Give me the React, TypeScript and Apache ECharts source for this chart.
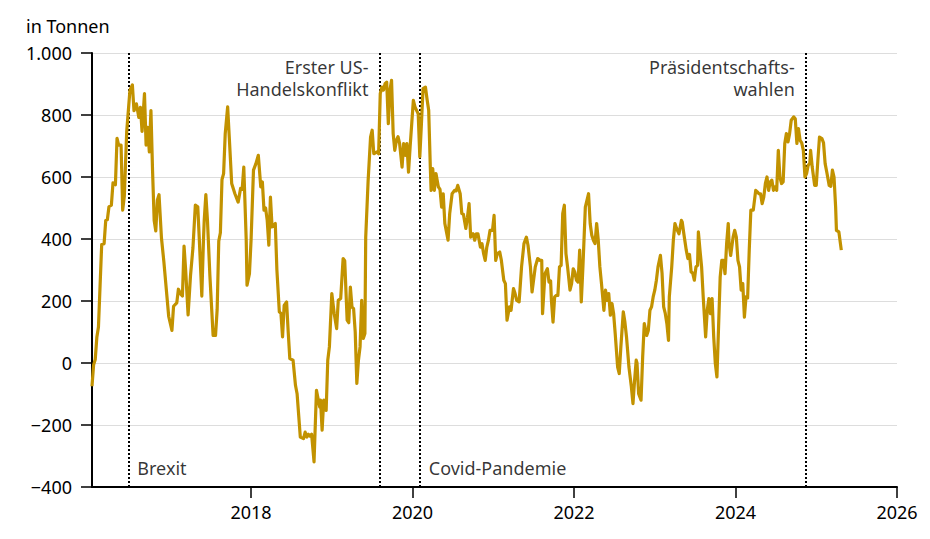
import React, { useEffect, useRef } from "react";
import * as echarts from "echarts";

// Decimal years and net flows in tonnes
const years: number[] = [
  2016.03, 2016.05, 2016.07, 2016.09, 2016.11, 2016.13, 2016.15, 2016.18, 2016.20, 2016.22,
  2016.24, 2016.27, 2016.29, 2016.32, 2016.34, 2016.36, 2016.39, 2016.41, 2016.43, 2016.46,
  2016.50, 2016.53, 2016.55, 2016.58, 2016.61, 2016.63, 2016.65, 2016.68, 2016.70, 2016.72,
  2016.74, 2016.76, 2016.78, 2016.80, 2016.82, 2016.84, 2016.86, 2016.89, 2016.92, 2016.95,
  2016.98, 2017.02, 2017.04, 2017.08, 2017.10, 2017.13, 2017.15, 2017.17, 2017.19, 2017.22,
  2017.25, 2017.28, 2017.31, 2017.34, 2017.36, 2017.39, 2017.41, 2017.42, 2017.44, 2017.46,
  2017.49, 2017.53, 2017.56, 2017.58, 2017.60, 2017.62, 2017.64, 2017.66, 2017.68, 2017.71,
  2017.73, 2017.76, 2017.80, 2017.84, 2017.87, 2017.89, 2017.91, 2017.94, 2017.95, 2017.98,
  2018.00, 2018.03, 2018.06, 2018.09, 2018.12, 2018.14, 2018.16, 2018.18, 2018.20, 2018.22,
  2018.24, 2018.26, 2018.30, 2018.32, 2018.35, 2018.37, 2018.39, 2018.41, 2018.44, 2018.46,
  2018.48, 2018.52, 2018.55, 2018.57, 2018.61, 2018.65, 2018.67, 2018.69, 2018.71, 2018.73,
  2018.75, 2018.78, 2018.81, 2018.85, 2018.86, 2018.88, 2018.90, 2018.93, 2018.95, 2018.97,
  2019.00, 2019.03, 2019.06, 2019.08, 2019.11, 2019.14, 2019.16, 2019.19, 2019.21, 2019.23,
  2019.25, 2019.27, 2019.29, 2019.31, 2019.33, 2019.35, 2019.37, 2019.39, 2019.41, 2019.42,
  2019.45, 2019.48, 2019.50, 2019.52, 2019.56, 2019.58, 2019.60, 2019.62, 2019.64, 2019.66,
  2019.68, 2019.70, 2019.72, 2019.74, 2019.76, 2019.78, 2019.80, 2019.82, 2019.84, 2019.87,
  2019.89, 2019.91, 2019.93, 2019.95, 2019.97, 2019.99, 2020.01, 2020.03, 2020.05, 2020.07,
  2020.09, 2020.11, 2020.13, 2020.16, 2020.18, 2020.20, 2020.22, 2020.23, 2020.25, 2020.27,
  2020.29, 2020.32, 2020.34, 2020.36, 2020.38, 2020.40, 2020.44, 2020.46, 2020.49, 2020.52,
  2020.54, 2020.56, 2020.59, 2020.61, 2020.63, 2020.66, 2020.68, 2020.70, 2020.72, 2020.75,
  2020.77, 2020.79, 2020.81, 2020.84, 2020.86, 2020.88, 2020.90, 2020.92, 2020.94, 2020.96,
  2020.99, 2021.01, 2021.03, 2021.05, 2021.08, 2021.10, 2021.13, 2021.15, 2021.17, 2021.20,
  2021.22, 2021.25, 2021.27, 2021.29, 2021.32, 2021.35, 2021.38, 2021.41, 2021.43, 2021.46,
  2021.48, 2021.52, 2021.55, 2021.58, 2021.60, 2021.61, 2021.64, 2021.67, 2021.69, 2021.71,
  2021.72, 2021.74, 2021.76, 2021.78, 2021.80, 2021.82, 2021.84, 2021.86, 2021.88, 2021.90,
  2021.92, 2021.95, 2021.97, 2021.99, 2022.01, 2022.03, 2022.05, 2022.07, 2022.09, 2022.11,
  2022.14, 2022.16, 2022.18, 2022.20, 2022.22, 2022.24, 2022.26, 2022.28, 2022.30, 2022.32,
  2022.34, 2022.37, 2022.39, 2022.41, 2022.43, 2022.45, 2022.47, 2022.49, 2022.51, 2022.54,
  2022.56, 2022.58, 2022.61, 2022.63, 2022.65, 2022.68, 2022.71, 2022.73, 2022.75, 2022.77,
  2022.78, 2022.80, 2022.83, 2022.85, 2022.87, 2022.90, 2022.92, 2022.94, 2022.96, 2022.98,
  2023.00, 2023.02, 2023.04, 2023.07, 2023.09, 2023.11, 2023.13, 2023.15, 2023.17, 2023.18,
  2023.21, 2023.23, 2023.25, 2023.27, 2023.30, 2023.33, 2023.34, 2023.36, 2023.39, 2023.41,
  2023.43, 2023.45, 2023.47, 2023.49, 2023.51, 2023.53, 2023.54, 2023.56, 2023.58, 2023.60,
  2023.63, 2023.65, 2023.67, 2023.69, 2023.71, 2023.73, 2023.75, 2023.77, 2023.79, 2023.81,
  2023.83, 2023.85, 2023.87, 2023.89, 2023.91, 2023.92, 2023.94, 2023.97, 2023.99, 2024.01,
  2024.03, 2024.05, 2024.07, 2024.09, 2024.11, 2024.13, 2024.15, 2024.17, 2024.19, 2024.22,
  2024.25, 2024.27, 2024.29, 2024.31, 2024.33, 2024.35, 2024.37, 2024.39, 2024.41, 2024.43,
  2024.45, 2024.47, 2024.49, 2024.51, 2024.53, 2024.55, 2024.57, 2024.59, 2024.61, 2024.63,
  2024.65, 2024.67, 2024.69, 2024.72, 2024.74, 2024.76, 2024.78, 2024.80, 2024.82, 2024.84,
  2024.86, 2024.88, 2024.90, 2024.92, 2024.93, 2024.95, 2024.98, 2025.00, 2025.02, 2025.04,
  2025.07, 2025.09, 2025.11, 2025.13, 2025.16, 2025.18, 2025.20, 2025.22, 2025.24, 2025.25,
  2025.28, 2025.31,
];

const tonnes: number[] = [
  -75, -6, 11, 83, 116, 249, 382, 385, 460, 462,
  504, 509, 581, 575, 725, 703, 703, 493, 537, 747,
  880, 897, 814, 836, 792, 825, 747, 869, 703, 760,
  681, 814, 620, 460, 426, 526, 543, 404, 327, 238,
  150, 105, 183, 194, 238, 222, 216, 377, 300, 155,
  282, 371, 509, 504, 393, 216, 393, 460, 543, 460,
  282, 89, 89, 172, 393, 420, 592, 611, 740, 826,
  729, 579, 546, 519, 563, 560, 632, 396, 251, 288,
  396, 622, 643, 670, 568, 584, 493, 500, 460, 380,
  535, 439, 450, 300, 165, 160, 84, 186, 197, 100,
  14, 9, -72, -99, -239, -244, -223, -239, -230, -236,
  -230, -319, -88, -142, -120, -217, -120, -153, 9, 52,
  224, 159, 111, 202, 208, 337, 330, 138, 130, 245,
  180, 175, 100, -66, 9, 52, 202, 79, 95, 406,
  589, 729, 751, 675, 681, 675, 869, 890, 880, 901,
  906, 772, 880, 912, 740, 686, 718, 730, 708, 632,
  708, 670, 708, 616, 697, 772, 847, 826, 815, 804,
  665, 772, 885, 890, 850, 815, 632, 557, 627, 557,
  611, 568, 560, 503, 546, 450, 396, 482, 546, 557,
  555, 573, 546, 482, 480, 434, 470, 514, 406, 417,
  396, 417, 417, 374, 385, 353, 331, 374, 396, 428,
  428, 476, 331, 353, 358, 331, 267, 256, 138, 181,
  170, 240, 224, 202, 197, 310, 385, 406, 380, 310,
  229, 310, 337, 331, 331, 159, 288, 304, 261, 265,
  202, 132, 213, 218, 218, 310, 315, 482, 509, 353,
  310, 235, 256, 304, 293, 267, 261, 364, 197, 310,
  503, 525, 546, 450, 412, 396, 385, 450, 396, 310,
  256, 170, 235, 202, 224, 154, 192, 160, 95, -13,
  -34, 52, 165, 132, 84, -13, -77, -131, -56, 9,
  0, -99, -120, 19, 127, 89, 105, 170, 181, 213,
  235, 267, 310, 347, 290, 181, 160, 127, 73, 213,
  310, 396, 450, 434, 417, 460, 455, 417, 364, 337,
  350, 294, 290, 267, 310, 315, 423, 364, 310, 213,
  84, 170, 208, 159, 208, 84, -2, -45, 116, 277,
  331, 331, 288, 385, 450, 385, 347, 406, 428, 406,
  331, 310, 235, 256, 148, 213, 210, 364, 493, 493,
  557, 552, 546, 546, 514, 535, 579, 600, 557, 584,
  590, 557, 568, 557, 686, 600, 579, 584, 708, 740,
  713, 740, 783, 794, 788, 708, 756, 718, 710, 686,
  600, 611, 638, 643, 686, 632, 573, 573, 654, 729,
  724, 710, 643, 616, 573, 570, 622, 600, 503, 428,
  423, 364,
];

const eventNames: string[] = ["Brexit", "Erster US-\nHandelskonflikt", "Covid-Pandemie", "Präsidentschafts-\nwahlen"];
const eventYears: number[] = [2016.48, 2019.59, 2020.09, 2024.87];
const eventLabelValues: number[] = [-340, 918, -340, 918];
const eventLabelSides: string[] = ["right", "left", "right", "left"];

const xTicks: number[] = [2018, 2020, 2022, 2024, 2026];
const xMin = 2016.03;
const xMax = 2026;
const yMin = -400;
const yMax = 1000;
const yStep = 200;

const LINE_COLOR = "#C29200";
const FONT = "'Noto Sans', 'DejaVu Sans', sans-serif";
const TEXT_COLOR = "#000000";

function fmtY(v: number): string {
  const a = Math.abs(v);
  let s = String(a);
  if (a >= 1000) s = s.replace(/\B(?=(\d{3})+(?!\d))/g, ".");
  return v < 0 ? "\u2212" + s : s;
}

export default function App() {
  const ref = useRef<HTMLDivElement>(null);

  useEffect(() => {
    if (!ref.current) return;
    const chart = echarts.init(ref.current, null, { renderer: "svg" });

    const lineData = years.map((y, i) => [y, tonnes[i]]);
    const labelData = eventNames.map((name, i) => ({
      value: [eventYears[i], eventLabelValues[i]],
      label: {
        show: true,
        formatter: name,
        position: eventLabelSides[i] as any,
        distance: eventLabelSides[i] === "right" ? 9 : 11,
        fontFamily: FONT,
        fontSize: 18,
        lineHeight: 22,
        color: TEXT_COLOR,
      },
    }));

    chart.setOption({
      animation: false,
      backgroundColor: "#ffffff",
      textStyle: { fontFamily: FONT },
      title: {
        text: "in Tonnen",
        left: 21,
        top: 12,
        textStyle: { fontFamily: FONT, fontSize: 18, fontWeight: "normal", color: TEXT_COLOR },
      },
      grid: { left: 92, right: 33, top: 53, bottom: 52 },
      xAxis: {
        type: "value",
        min: xMin,
        max: xMax,
        splitLine: { show: false },
        axisLine: { show: true, onZero: false, lineStyle: { color: "#000", width: 2 } },
        axisTick: { show: true, customValues: xTicks, length: 11, lineStyle: { color: "#000", width: 1.5 } },
        axisLabel: {
          customValues: xTicks,
          formatter: (v: number) => String(Math.round(v)),
          fontFamily: FONT,
          fontSize: 18,
          color: TEXT_COLOR,
          margin: 16,
        },
      },
      yAxis: {
        type: "value",
        min: yMin,
        max: yMax,
        interval: yStep,
        splitLine: { show: true, lineStyle: { color: "#dddddd", width: 1 } },
        axisLine: { show: true, lineStyle: { color: "#000", width: 2 } },
        axisTick: { show: true, inside: false, length: 11, lineStyle: { color: "#000", width: 1.5 } },
        axisLabel: {
          formatter: (v: number) => fmtY(v),
          fontFamily: FONT,
          fontSize: 18,
          color: TEXT_COLOR,
          margin: 20,
        },
      },
      series: [
        {
          type: "line",
          data: lineData,
          showSymbol: false,
          symbol: "none",
          lineStyle: { color: LINE_COLOR, width: 3.2, join: "round" },
          itemStyle: { color: LINE_COLOR },
          z: 3,
          markLine: {
            silent: true,
            symbol: ["none", "none"],
            label: { show: false },
            lineStyle: { color: "#000", type: [2, 2], width: 2 },
            data: eventYears.map((x) => ({ xAxis: x })),
            z: 2,
          },
        },
        {
          type: "scatter",
          symbolSize: 0,
          silent: true,
          data: labelData,
          z: 4,
        },
      ],
    });

    return () => chart.dispose();
  }, []);

  return (
    <div
      ref={ref}
      style={{ position: "fixed", left: 0, top: 0, width: 930, height: 539, background: "#fff" }}
    />
  );
}
